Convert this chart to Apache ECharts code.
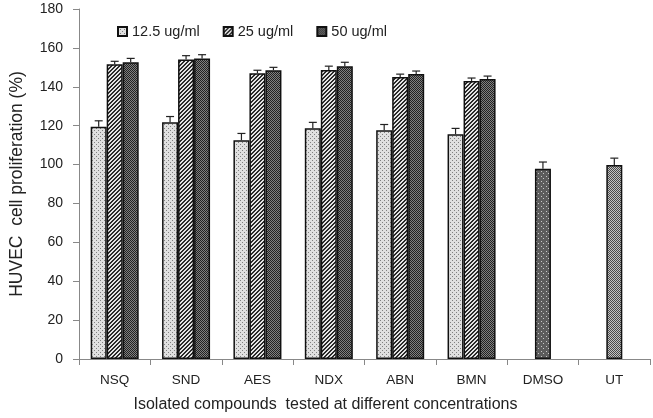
<!DOCTYPE html>
<html><head><meta charset="utf-8">
<script src="https://cdn.jsdelivr.net/npm/echarts@6/dist/echarts.min.js"></script>
<style>html,body{margin:0;padding:0;background:#fff}#c{width:653px;height:418px}</style>
</head><body><div id="c"></div>
<script>
const categories = ['NSQ','SND','AES','NDX','ABN','BMN','DMSO','UT'];
const seriesNames = ['12.5 ug/ml','25 ug/ml','50 ug/ml'];
const v125 = [119.5, 121.7, 112.5, 118.7, 117.6, 115.6, null, null];
const v25  = [151.6, 154.0, 147.0, 148.6, 145.0, 143.0, 97.8, 99.8];
const v50  = [152.6, 154.5, 148.5, 150.6, 146.6, 144.0, null, null];
const e125 = [3, 3, 3.5, 3, 3, 3, null, null];
const e25  = [1.5, 2, 1.5, 2, 1.5, 1.5, 3.5, 3.5];
const e50  = [2, 2, 1.5, 2, 1.5, 1.5, null, null];
const yTicks = [0,20,40,60,80,100,120,140,160,180];

function pat(size, draw){
  const c = document.createElement('canvas'); c.width = size; c.height = size;
  const g = c.getContext('2d'); draw(g, size); return c;
}
const pLight = pat(4, (g)=>{ g.fillStyle='#e0e0e0'; g.fillRect(0,0,4,4); g.fillStyle='#808080'; g.fillRect(0,0,1,1); g.fillRect(2,2,1,1); });
const pHatch = pat(4, (g)=>{ g.fillStyle='#e4e4e4'; g.fillRect(0,0,4,4); g.fillStyle='#2a2a2a';
  for(let i=0;i<4;i++){ const x=(4-i)%4; g.fillRect(x,i,1,1); g.fillRect((x+1)%4,i,1,1);} });
const pDark = pat(2, (g)=>{ g.fillStyle='#808080'; g.fillRect(0,0,2,2); g.fillStyle='#222'; g.fillRect(0,0,1,1); g.fillRect(1,1,1,1); });
const pDmso = pat(5, (g)=>{ g.fillStyle='#5c5c5c'; g.fillRect(0,0,5,5); g.fillStyle='#c8c8c8'; g.fillRect(1,1,1,1); g.fillRect(3,3,1,1); });
const pUt = pat(2, (g)=>{ g.fillStyle='#c4c4c4'; g.fillRect(0,0,2,2); g.fillStyle='#4a4a4a'; g.fillRect(0,0,1,1); g.fillRect(1,1,1,1); });
const fills = [pLight, pHatch, pDark].map(c=>({image:c, repeat:'repeat'}));
const special = {6:{image:pDmso,repeat:'repeat'}, 7:{image:pUt,repeat:'repeat'}};

const vals = [v125, v25, v50], errs = [e125, e25, e50];
const BW = 16;
const series = [];
vals.forEach((arr, si) => {
  series.push({
    name: seriesNames[si], type:'bar', barWidth: BW, barGap:'0%',
    itemStyle:{color: fills[si], borderColor:'#111', borderWidth:1.5},
    data: arr.map((v,i)=> (si===1 && special[i]) ? {value:v, itemStyle:{color:special[i]}} : v),
    z:2
  });
});
vals.forEach((arr, si) => {
  series.push({
    type:'custom', silent:true, z:3,
    data: arr.map((v,i)=> v==null ? null : [i, v, errs[si][i]]).filter(d=>d),
    renderItem: (params, api) => {
      const i = api.value(0), v = api.value(1), e = api.value(2);
      const single = (i>=6);
      const off = single ? 0 : (si-1)*BW;
      const p0 = api.coord([i, v]), p1 = api.coord([i, v+e]);
      const x = p0[0] + off;
      return {type:'group', children:[
        {type:'line', shape:{x1:x,y1:p0[1],x2:x,y2:p1[1]}, style:{stroke:'#222',lineWidth:1.2}},
        {type:'line', shape:{x1:x-4,y1:p1[1],x2:x+4,y2:p1[1]}, style:{stroke:'#222',lineWidth:1.2}}
      ]};
    }
  });
});

const chart = echarts.init(document.getElementById('c'));
chart.setOption({
  animation:false,
  textStyle:{fontFamily:'Liberation Sans'},
  legend:{ data: seriesNames, top: 19, left: 112, itemWidth: 9, itemHeight: 9, itemGap: 23,
    textStyle:{fontSize:14.5, color:'#222', fontFamily:'Liberation Sans'}, icon:'rect' },
  grid:{left:70.7, right:3, top:9, bottom:54.3},
  xAxis:{ type:'category', data: categories,
    axisLine:{lineStyle:{color:'#888'}}, axisTick:{show:true, length:6, lineStyle:{color:'#888'}},
    axisLabel:{color:'#222', fontSize:13.5, margin:14, fontFamily:'Liberation Sans'},
    name:'Isolated compounds  tested at different concentrations', nameLocation:'middle', nameGap:38,
    nameTextStyle:{color:'#222', fontSize:16, fontFamily:'Liberation Sans', padding:[0,78,0,0]} },
  yAxis:{ type:'value', min:0, max:180, interval:20,
    axisLine:{show:true, lineStyle:{color:'#888'}}, axisTick:{show:true, length:6, lineStyle:{color:'#888'}},
    splitLine:{show:false},
    axisLabel:{color:'#222', fontSize:14, margin:16, fontFamily:'Liberation Sans',
      formatter: (v)=> yTicks.includes(v) ? String(v) : ''},
    name:'HUVEC  cell proliferation (%)', nameLocation:'middle', nameGap:53,
    nameTextStyle:{color:'#222', fontSize:17.5, fontFamily:'Liberation Sans'} },
  series
});
</script></body></html>
